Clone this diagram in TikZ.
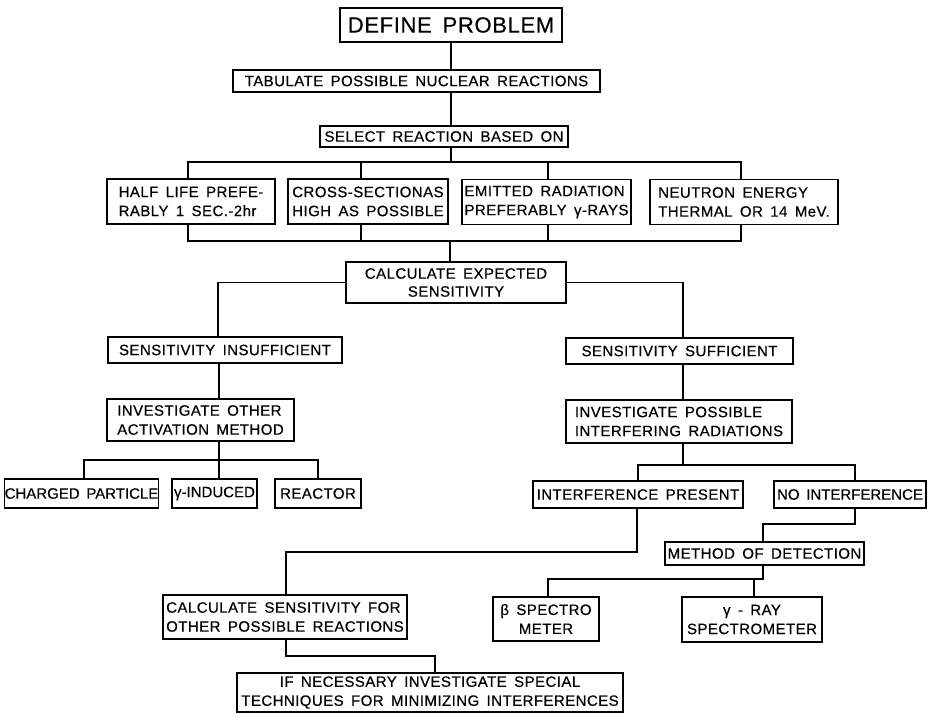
\documentclass[tikz,border=0pt]{standalone}
\usepackage{fontspec}
\setmainfont{Liberation Sans}[LetterSpace=3,WordSpace=1.6,FakeBold=0.5]
\tikzset{
  box/.style={draw, line width=1.2pt, inner sep=0pt, align=center, font=\fontsize{15}{19}\selectfont},
  lbox/.style={box, align=left},
  tight/.style={font=\fontsize{15}{19}\selectfont\addfontfeatures{LetterSpace=0}},
  conn/.style={line width=1.2pt}
}
\begin{document}
\begin{tikzpicture}[x=1pt,y=-1pt]
\useasboundingbox (0,0) rectangle (929,716);
% nodes
\node[box, minimum width=222pt, minimum height=34pt, font=\fontsize{22}{26}\selectfont] (def) at (451,25) {DEFINE PROBLEM};
\node[box, minimum width=367pt, minimum height=22pt] (tab) at (416.5,81) {TABULATE POSSIBLE NUCLEAR REACTIONS};
\node[box, minimum width=248pt, minimum height=21pt] (sel) at (444,136.5) {SELECT REACTION BASED ON};
\node[lbox, minimum width=168pt, minimum height=45pt] (half) at (191,201.5) {HALF LIFE PREFE-\\RABLY 1 SEC.-2hr};
\node[lbox, minimum width=160pt, minimum height=45pt] (cross) at (368,201.5) {CROSS-SECTIONAS\\HIGH AS POSSIBLE};
\node[lbox, minimum width=169pt, minimum height=45pt] (emit) at (546.5,202) {EMITTED RADIATION\\PREFERABLY γ-RAYS};
\node[lbox, minimum width=188pt, minimum height=45pt] (neut) at (744,202) {NEUTRON ENERGY\\THERMAL OR 14 MeV.};
\node[box, minimum width=220pt, minimum height=41pt, font=\fontsize{15}{18}\selectfont] (calc) at (456,282.5) {CALCULATE EXPECTED\\SENSITIVITY};
\node[box, minimum width=234pt, minimum height=26pt] (insuff) at (225,350) {SENSITIVITY INSUFFICIENT};
\node[box, minimum width=227pt, minimum height=26pt] (suff) at (679.5,351) {SENSITIVITY SUFFICIENT};
\node[lbox, minimum width=187pt, minimum height=42pt] (invo) at (200.5,420) {INVESTIGATE OTHER\\ACTIVATION METHOD};
\node[lbox, minimum width=226pt, minimum height=43pt] (invp) at (679,421.5) {INVESTIGATE POSSIBLE\\INTERFERING RADIATIONS};
\node[box, tight, minimum width=151pt, minimum height=29pt] (charged) at (81.5,493.5) {CHARGED PARTICLE};
\node[box, tight, minimum width=85pt, minimum height=29pt] (gamma) at (214.5,493.5) {γ-INDUCED};
\node[box, minimum width=86pt, minimum height=29pt] (reactor) at (318,493.5) {REACTOR};
\node[box, minimum width=210pt, minimum height=27pt] (ipres) at (638,494.5) {INTERFERENCE PRESENT};
\node[box, tight, minimum width=152pt, minimum height=27pt] (noint) at (850,494.5) {NO INTERFERENCE};
\node[box, minimum width=199pt, minimum height=23pt] (method) at (764.5,553.5) {METHOD OF DETECTION};
\node[lbox, minimum width=244pt, minimum height=44pt] (calcfor) at (285,617) {CALCULATE SENSITIVITY FOR\\OTHER POSSIBLE REACTIONS};
\node[box, minimum width=106pt, minimum height=44pt] (beta) at (546,619) {β SPECTRO\\METER};
\node[box, minimum width=140pt, minimum height=45pt] (gray) at (752,619.5) {γ - RAY\\SPECTROMETER};
\node[box, minimum width=386pt, minimum height=39pt] (ifnec) at (430,692.5) {IF NECESSARY INVESTIGATE SPECIAL\\TECHNIQUES FOR MINIMIZING INTERFERENCES};
% junction coordinates
\coordinate (s1) at (451,162);
\coordinate (h1) at (188,162); \coordinate (c1) at (361,162);
\coordinate (e1) at (548,162); \coordinate (n1) at (741,162);
\coordinate (h2) at (188,241); \coordinate (c2) at (361,241);
\coordinate (e2) at (548,241); \coordinate (n2) at (741,241);
\coordinate (m2) at (450,241);
\coordinate (l3) at (218,0); \coordinate (r3) at (683,0);
\coordinate (l4) at (219,0);
\coordinate (ob) at (219,460); \coordinate (ch) at (84,460); \coordinate (rc) at (318,460);
\coordinate (pb) at (683,465); \coordinate (pl) at (638,465); \coordinate (pr) at (855,465);
\coordinate (q1) at (637,552); \coordinate (q2) at (286,552);
\coordinate (t1) at (855,524); \coordinate (t2) at (763,524);
\coordinate (u1) at (763,579); \coordinate (u2) at (548,579); \coordinate (u3) at (754,579);
\coordinate (v1) at (286,656); \coordinate (v2) at (435,656);
% connectors
\draw[conn] (def.south) -- (def.south |- tab.north);
\draw[conn] (def.south |- tab.south) -- (def.south |- sel.north);
\draw[conn] (s1 |- sel.south) -- (s1);
\draw[conn] (h1 |- half.north) -- (h1) -- (n1) -- (n1 |- neut.north);
\draw[conn] (c1) -- (c1 |- cross.north);
\draw[conn] (e1) -- (e1 |- emit.north);
\draw[conn] (h2 |- half.south) -- (h2) -- (n2) -- (n2 |- neut.south);
\draw[conn] (c2 |- cross.south) -- (c2);
\draw[conn] (e2 |- emit.south) -- (e2);
\draw[conn] (m2) -- (m2 |- calc.north);
\draw[conn] (calc.west) -| (l3 |- insuff.north);
\draw[conn] (calc.east) -| (r3 |- suff.north);
\draw[conn] (l4 |- insuff.south) -- (l4 |- invo.north);
\draw[conn] (ob |- invo.south) -- (ob |- gamma.north);
\draw[conn] (ch |- charged.north) -- (ch) -- (rc) -- (rc |- reactor.north);
\draw[conn] (r3 |- suff.south) -- (r3 |- invp.north);
\draw[conn] (pb |- invp.south) -- (pb);
\draw[conn] (pl |- ipres.north) -- (pl) -- (pr) -- (pr |- noint.north);
\draw[conn] (q1 |- ipres.south) -- (q1) -- (q2) -- (q2 |- calcfor.north);
\draw[conn] (t1 |- noint.south) -- (t1) -- (t2) -- (t2 |- method.north);
\draw[conn] (u1 |- method.south) -- (u1) -- (u2) -- (u2 |- beta.north);
\draw[conn] (u3) -- (u3 |- gray.north);
\draw[conn] (v1 |- calcfor.south) -- (v1) -- (v2) -- (v2 |- ifnec.north);
\end{tikzpicture}
\end{document}
